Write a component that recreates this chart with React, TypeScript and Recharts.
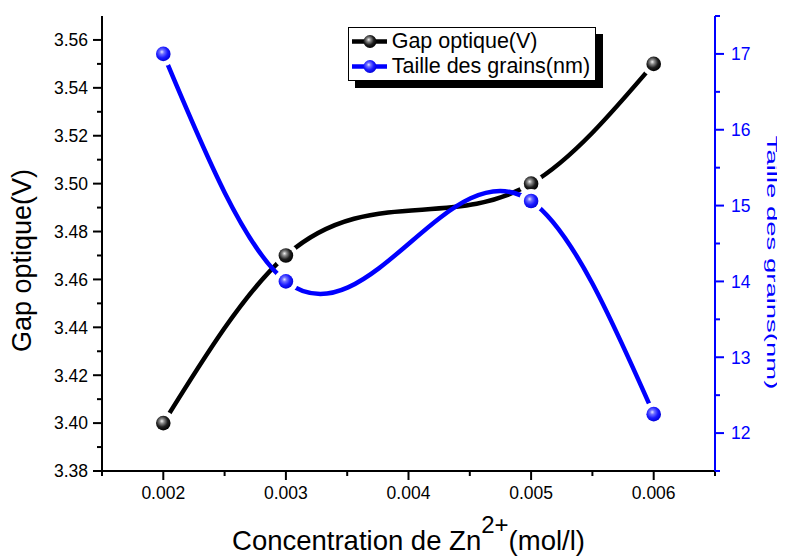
import React from "react";
import { LineChart, Line, XAxis, YAxis, Legend } from "recharts";

const concentrations = [0.002, 0.003, 0.005, 0.006];
const gapOptique = [3.4, 3.47, 3.5, 3.55];
const tailleGrains = [17.0, 14.0, 15.06, 12.25];

const xMajorTicks = [0.002, 0.003, 0.004, 0.005, 0.006];
const xMinorTicks = [0.0015, 0.0025, 0.0035, 0.0045, 0.0055, 0.0065];
const gapMajorTicks = [3.38, 3.4, 3.42, 3.44, 3.46, 3.48, 3.5, 3.52, 3.54, 3.56];
const gapMinorTicks = [3.39, 3.41, 3.43, 3.45, 3.47, 3.49, 3.51, 3.53, 3.55];
const grainMajorTicks = [12, 13, 14, 15, 16, 17];
const grainMinorTicks = [11.5, 12.5, 13.5, 14.5, 15.5, 16.5, 17.5];

const FONT = "Arial, 'Liberation Sans', Helvetica, sans-serif";
const BLUE = "#0000ff";

const data = concentrations.map((c, i) => ({
  conc: c,
  gap: gapOptique[i],
  grains: tailleGrains[i],
}));

const sortTicks = (a: number[], b: number[]) => [...a, ...b].sort((p, q) => p - q);
const isMajor = (v: number, majors: number[]) => majors.some((m) => Math.abs(m - v) < 1e-9);

// natural cubic spline y(x), like Origin's spline connector
function naturalSplineX(context: any) {
  let xs: number[] = [];
  let ys: number[] = [];
  return {
    areaStart() {},
    areaEnd() {},
    lineStart() {
      xs = [];
      ys = [];
    },
    point(x: number, y: number) {
      xs.push(+x);
      ys.push(+y);
    },
    lineEnd() {
      const n = xs.length;
      if (n === 0) return;
      context.moveTo(xs[0], ys[0]);
      if (n === 1) return;
      if (n === 2) {
        context.lineTo(xs[1], ys[1]);
        return;
      }
      const h: number[] = [];
      for (let i = 0; i < n - 1; i++) h.push(xs[i + 1] - xs[i]);
      const a: number[] = [];
      const b: number[] = [];
      const c: number[] = [];
      const d: number[] = [];
      for (let i = 1; i < n - 1; i++) {
        a.push(h[i - 1]);
        b.push(2 * (h[i - 1] + h[i]));
        c.push(h[i]);
        d.push(6 * ((ys[i + 1] - ys[i]) / h[i] - (ys[i] - ys[i - 1]) / h[i - 1]));
      }
      const m = a.length;
      for (let i = 1; i < m; i++) {
        const w = a[i] / b[i - 1];
        b[i] -= w * c[i - 1];
        d[i] -= w * d[i - 1];
      }
      const sol = new Array(m).fill(0);
      sol[m - 1] = d[m - 1] / b[m - 1];
      for (let i = m - 2; i >= 0; i--) sol[i] = (d[i] - c[i] * sol[i + 1]) / b[i];
      const M = [0, ...sol, 0];
      for (let i = 0; i < n - 1; i++) {
        const hi = h[i];
        const slope = (ys[i + 1] - ys[i]) / hi;
        const d0 = slope - (hi * (2 * M[i] + M[i + 1])) / 6;
        const d1 = slope + (hi * (M[i] + 2 * M[i + 1])) / 6;
        context.bezierCurveTo(
          xs[i] + hi / 3,
          ys[i] + (d0 * hi) / 3,
          xs[i + 1] - hi / 3,
          ys[i + 1] - (d1 * hi) / 3,
          xs[i + 1],
          ys[i + 1]
        );
      }
    },
  };
}

function LeftTick(props: any) {
  const { x, y, payload } = props;
  const major = isMajor(payload.value, gapMajorTicks);
  return (
    <g>
      <line x1={x - (major ? 9 : 5)} x2={x} y1={y} y2={y} stroke="#000" strokeWidth={2} />
      {major && (
        <text x={x - 14} y={y} dy="0.36em" textAnchor="end" fontSize={17.5} fontFamily={FONT} fill="#000">
          {payload.value.toFixed(2)}
        </text>
      )}
    </g>
  );
}

function RightTick(props: any) {
  const { x, y, payload } = props;
  const major = isMajor(payload.value, grainMajorTicks);
  return (
    <g>
      <line x1={x} x2={x + (major ? 9 : 5)} y1={y} y2={y} stroke={BLUE} strokeWidth={2} />
      {major && (
        <text x={x + 16} y={y} dy="0.36em" textAnchor="start" fontSize={17.5} fontFamily={FONT} fill={BLUE}>
          {payload.value}
        </text>
      )}
    </g>
  );
}

function BottomTick(props: any) {
  const { x, y, payload } = props;
  const major = isMajor(payload.value, xMajorTicks);
  return (
    <g>
      <line x1={x} x2={x} y1={y} y2={y + (major ? 9 : 5)} stroke="#000" strokeWidth={2} />
      {major && (
        <text x={x} y={y + 28} textAnchor="middle" fontSize={17.5} fontFamily={FONT} fill="#000">
          {payload.value.toFixed(3)}
        </text>
      )}
    </g>
  );
}

const makeDot = (id: string, grad: string) => (props: any) => {
  const { cx, cy, index } = props;
  return (
    <g key={`${id}-${index}`}>
      <circle cx={cx} cy={cy} r={12} fill="#fff" />
      <circle cx={cx} cy={cy} r={7.3} fill={`url(#${grad})`} />
    </g>
  );
};

function Ball({ id, color }: { id: string; color: "black" | "blue" }) {
  const stops =
    color === "black"
      ? ["#f2f2f2", "#8a8a8a", "#1e1e1e", "#000000"]
      : ["#e6e6ff", "#6f6fff", "#1a1aff", "#0000d8"];
  return (
    <radialGradient id={id} cx="0.42" cy="0.4" r="0.62" fx="0.4" fy="0.36">
      <stop offset="0" stopColor={stops[0]} />
      <stop offset="0.25" stopColor={stops[1]} />
      <stop offset="0.62" stopColor={stops[2]} />
      <stop offset="1" stopColor={stops[3]} />
    </radialGradient>
  );
}

function LegendRow({ label, color, grad }: { label: string; color: string; grad: "black" | "blue" }) {
  const gid = `leg-${grad}`;
  return (
    <div style={{ display: "flex", alignItems: "center", height: 25 }}>
      <svg width={43} height={25} style={{ display: "block", flex: "none" }}>
        <defs>
          <Ball id={gid} color={grad} />
        </defs>
        <line x1={3} x2={38} y1={12.5} y2={12.5} stroke={color} strokeWidth={4.5} />
        <circle cx={21} cy={12.5} r={6.5} fill={`url(#${gid})`} />
      </svg>
      <span style={{ fontSize: 21.5, lineHeight: "25px", color: "#000", whiteSpace: "nowrap" }}>{label}</span>
    </div>
  );
}

function LegendBox() {
  return (
    <div
      style={{
        width: 246,
        height: 51,
        border: "1px solid #000",
        background: "#fff",
        boxShadow: "7px 7px 0 #000",
        fontFamily: FONT,
        paddingTop: 1,
        boxSizing: "content-box",
      }}
    >
      <LegendRow label="Gap optique(V)" color="#000" grad="black" />
      <LegendRow label="Taille des grains(nm)" color={BLUE} grad="blue" />
    </div>
  );
}

function BottomLabel() {
  return (
    <text x={400.5} y={542} textAnchor="middle" fontSize={27.5} fontFamily={FONT} fill="#000">
      Concentration de Zn
      <tspan dy={-16.6} fontSize={24}>
        2+
      </tspan>
      <tspan dy={16.6} fontSize={27.5}>
        (mol/l)
      </tspan>
    </text>
  );
}

function LeftLabel() {
  return (
    <text
      x={23.3}
      y={252.5}
      transform="rotate(-90, 23.3, 252.5)"
      textAnchor="middle"
      fontSize={27}
      fontFamily={FONT}
      fill="#000"
    >
      Gap optique(V)
    </text>
  );
}

function RightLabel() {
  // squeezed across the glyph height, as in the reference
  return (
    <text
      x={0}
      y={0}
      transform="translate(758.5, 254.5) rotate(90) scale(1, 0.55)"
      textAnchor="middle"
      fontSize={27.5}
      fontFamily={FONT}
      fill={BLUE}
    >
      Taille des grains(nm)
    </text>
  );
}

export default function App() {
  return (
    <div style={{ width: 777, height: 548 }}>
      <LineChart width={777} height={548} data={data} margin={{ top: 8, right: 0, bottom: 0, left: 0 }}>
        <defs>
          <Ball id="ballBlack" color="black" />
          <Ball id="ballBlue" color="blue" />
        </defs>
        <XAxis
          dataKey="conc"
          type="number"
          domain={[0.0015, 0.0065]}
          allowDataOverflow
          ticks={sortTicks(xMajorTicks, xMinorTicks)}
          interval={0}
          height={85}
          tickSize={0}
          tickMargin={0}
          tickLine={false}
          tick={<BottomTick />}
          axisLine={{ stroke: "#000", strokeWidth: 2 }}
          label={<BottomLabel />}
        />
        <XAxis
          xAxisId="top"
          dataKey="conc"
          orientation="top"
          type="number"
          domain={[0.0015, 0.0065]}
          allowDataOverflow
          height={0}
          tick={false}
          tickLine={false}
          axisLine={{ stroke: "#000", strokeWidth: 2 }}
        />
        <YAxis
          yAxisId="gap"
          orientation="left"
          type="number"
          domain={[3.38, 3.57]}
          allowDataOverflow
          ticks={sortTicks(gapMajorTicks, gapMinorTicks)}
          interval={0}
          width={94}
          tickSize={0}
          tickMargin={0}
          tickLine={false}
          tick={<LeftTick />}
          axisLine={{ stroke: "#000", strokeWidth: 2 }}
          label={<LeftLabel />}
        />
        <YAxis
          yAxisId="grains"
          orientation="right"
          type="number"
          domain={[11.5, 17.5]}
          allowDataOverflow
          ticks={sortTicks(grainMajorTicks, grainMinorTicks)}
          interval={0}
          width={70}
          tickSize={0}
          tickMargin={0}
          tickLine={false}
          tick={<RightTick />}
          axisLine={{ stroke: BLUE, strokeWidth: 2 }}
          label={<RightLabel />}
        />
        <Legend
          verticalAlign="middle"
          align="center"
          content={() => <LegendBox />}
          wrapperStyle={{ position: "absolute", left: 339.7, top: 19.3, width: "auto", height: "auto" }}
        />
        <Line
          yAxisId="gap"
          dataKey="gap"
          name="Gap optique(V)"
          type={naturalSplineX as any}
          stroke="#000"
          strokeWidth={4.5}
          dot={makeDot("gap", "ballBlack")}
          activeDot={false}
          isAnimationActive={false}
        />
        <Line
          yAxisId="grains"
          dataKey="grains"
          name="Taille des grains(nm)"
          type={naturalSplineX as any}
          stroke={BLUE}
          strokeWidth={4.5}
          dot={makeDot("grains", "ballBlue")}
          activeDot={false}
          isAnimationActive={false}
        />
      </LineChart>
    </div>
  );
}
